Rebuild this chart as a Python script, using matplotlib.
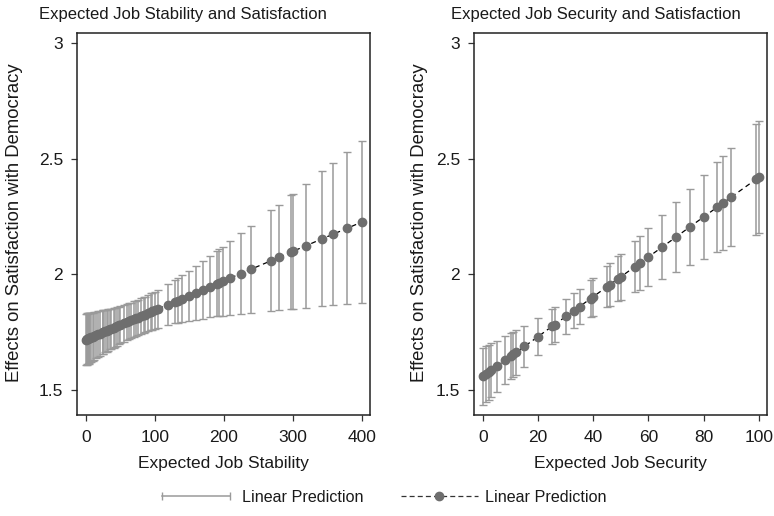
import matplotlib
matplotlib.use("Agg")
import matplotlib.pyplot as plt
from matplotlib.lines import Line2D
from matplotlib.legend_handler import HandlerLine2D
import numpy as np

plt.rcParams['font.family'] = ['Liberation Sans', 'DejaVu Sans']

# ---------------- Data ----------------
stab_x = [0, 1, 2, 3, 4, 5, 6, 8, 10, 12, 15, 18, 20, 24, 25, 28, 30, 32, 35, 36,
          40, 42, 45, 48, 50, 55, 60, 62, 65, 70, 72, 75, 80, 84, 85, 90, 95, 96,
          100, 104, 119, 129, 133, 139, 149, 159, 170, 180, 190, 193, 199, 209,
          225, 239, 269, 280, 297, 300, 319, 343, 359, 379, 400]
stab_pred = [1.717, 1.718, 1.720, 1.721, 1.722, 1.723, 1.725, 1.727, 1.730, 1.732,
             1.736, 1.740, 1.742, 1.748, 1.749, 1.753, 1.755, 1.758, 1.762, 1.763,
             1.768, 1.770, 1.774, 1.778, 1.781, 1.787, 1.793, 1.796, 1.800, 1.806,
             1.809, 1.812, 1.819, 1.824, 1.825, 1.832, 1.838, 1.839, 1.844, 1.849,
             1.868, 1.881, 1.886, 1.894, 1.907, 1.919, 1.933, 1.946, 1.959, 1.963,
             1.970, 1.983, 2.003, 2.021, 2.059, 2.073, 2.095, 2.099, 2.123, 2.154,
             2.174, 2.199, 2.226]
stab_hw = [0.112, 0.111, 0.110, 0.109, 0.109, 0.108, 0.107, 0.106, 0.104, 0.103,
           0.101, 0.099, 0.097, 0.095, 0.094, 0.092, 0.091, 0.090, 0.088, 0.088,
           0.086, 0.085, 0.083, 0.082, 0.081, 0.080, 0.078, 0.078, 0.077, 0.077,
           0.077, 0.076, 0.076, 0.077, 0.077, 0.077, 0.079, 0.079, 0.080, 0.081,
           0.088, 0.094, 0.097, 0.101, 0.108, 0.116, 0.125, 0.133, 0.142, 0.145,
           0.150, 0.159, 0.175, 0.188, 0.217, 0.228, 0.246, 0.249, 0.268, 0.292,
           0.309, 0.329, 0.351]

sec_x = [0, 1, 2, 3, 5, 8, 10, 11, 12, 15, 20, 25, 26, 30, 33, 35, 39, 40, 45, 46,
         49, 50, 55, 57, 60, 65, 70, 75, 80, 85, 87, 90, 99, 100]
sec_pred = [1.558, 1.567, 1.575, 1.584, 1.601, 1.627, 1.644, 1.653, 1.661, 1.687,
            1.730, 1.774, 1.782, 1.817, 1.842, 1.860, 1.894, 1.903, 1.946, 1.955,
            1.980, 1.989, 2.032, 2.049, 2.075, 2.118, 2.161, 2.205, 2.248, 2.291,
            2.308, 2.334, 2.411, 2.420]
sec_hw = [0.124, 0.122, 0.119, 0.116, 0.111, 0.104, 0.100, 0.098, 0.096, 0.090,
          0.082, 0.077, 0.076, 0.075, 0.076, 0.077, 0.081, 0.082, 0.090, 0.092,
          0.098, 0.100, 0.111, 0.116, 0.124, 0.138, 0.152, 0.166, 0.181, 0.196,
          0.203, 0.212, 0.240, 0.243]

y_ticks = [1.5, 2, 2.5, 3]
y_ticklabels = ["1.5", "2", "2.5", "3"]
stab_ticks = [0, 100, 200, 300, 400]
sec_ticks = [0, 20, 40, 60, 80, 100]

titles = ["Expected Job Stability and Satisfaction", "Expected Job Security and Satisfaction"]
xlabels = ["Expected Job Stability", "Expected Job Security"]
ylabel = "Effects on Satisfaction with Democracy"
legend_labels = ["Linear Prediction", "Linear Prediction"]

# ---------------- Style ----------------
W, H = 774, 516
BAR_C = '#9a9a9a'
MK_C = '#6e6e6e'
TXT_C = '#1a1a1a'
FS = 12.5
FS_T = 12
FS_Y = 13.3
FS_L = 11.6

fig = plt.figure(figsize=(W / 100, H / 100), dpi=100)

def px_axes(x0, y0, x1, y1):
    return fig.add_axes([x0 / W, 1 - y1 / H, (x1 - x0) / W, (y1 - y0) / H])

ax1 = px_axes(77, 33, 370, 415)
ax2 = px_axes(474, 33, 767, 415)

panels = [
    (ax1, stab_x, stab_pred, stab_hw, stab_ticks, (-13, 412)),
    (ax2, sec_x, sec_pred, sec_hw, sec_ticks, (-3.3, 103)),
]

for i, (ax, xs, pr, hw, xt, xl) in enumerate(panels):
    ax.errorbar(xs, pr, yerr=hw, fmt='none', ecolor=BAR_C, elinewidth=1.1,
                capsize=3, capthick=1.0, zorder=2)
    ax.plot(xs, pr, color='black', lw=0.9, ls=(0, (4, 3)), zorder=3)
    ax.plot(xs, pr, ls='none', marker='o', ms=6.0, color=MK_C, mec=MK_C, zorder=4)
    ax.set_xlim(*xl)
    ax.set_ylim(1.39, 3.045)
    ax.set_xticks(xt)
    ax.set_xticklabels([str(t) for t in xt])
    ax.set_yticks(y_ticks)
    ax.set_yticklabels(y_ticklabels)
    ax.tick_params(direction='out', length=4, width=0.9, colors='#333333',
                   labelcolor=TXT_C, labelsize=FS)
    ax.tick_params(axis='x', pad=7)
    ax.tick_params(axis='y', pad=6)
    for s in ax.spines.values():
        s.set_color('#222222')
        s.set_linewidth(1.1)
    ax.set_xlabel(xlabels[i], fontsize=FS, color=TXT_C, labelpad=8)

fig.text(183 / W, 1 - 15 / H, titles[0], ha='center', va='center', fontsize=FS_T, color=TXT_C)
fig.text(596 / W, 1 - 15 / H, titles[1], ha='center', va='center', fontsize=FS_T, color=TXT_C)
fig.text(15 / W, 1 - 223 / H, ylabel, rotation=90, ha='center', va='center', fontsize=FS_Y, color=TXT_C)
fig.text(420 / W, 1 - 223 / H, ylabel, rotation=90, ha='center', va='center', fontsize=FS_Y, color=TXT_C)

h1 = Line2D([], [], color=BAR_C, lw=1.1, marker='|', ms=6, mew=1.0)
h2 = Line2D([], [], color='#333333', lw=0.9, ls=(0, (4, 2.5)), marker='o', ms=6,
            mfc=MK_C, mec=MK_C)
fig.legend([h1, h2], legend_labels, loc='center', bbox_to_anchor=(382 / W, 1 - 497 / H),
           ncol=2, frameon=False, fontsize=FS_L, handlelength=4.8, handletextpad=0.45,
           columnspacing=2.3, labelcolor=TXT_C,
           handler_map={h1: HandlerLine2D(numpoints=2), h2: HandlerLine2D(numpoints=1)})

fig.savefig('out.png', dpi=100)
